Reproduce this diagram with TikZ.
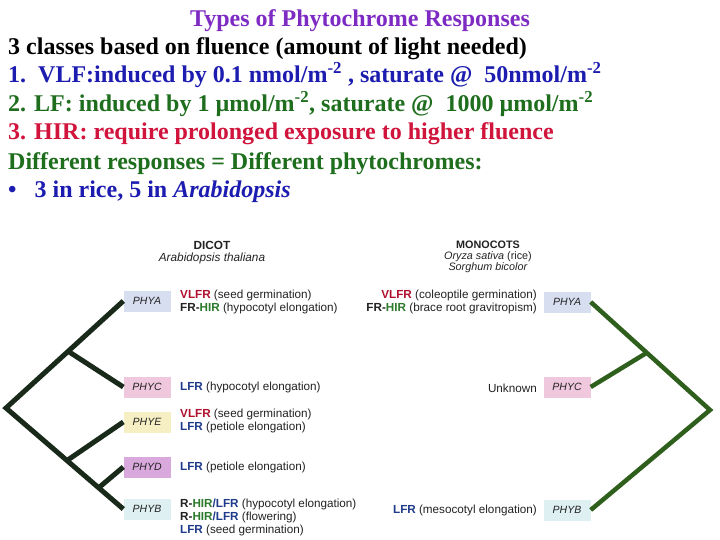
\documentclass[tikz,border=0pt]{standalone}
\usepackage{fontspec}
\setmainfont{Liberation Serif}
\setsansfont{Liberation Sans}
\usetikzlibrary{calc}

\definecolor{ttlpurple}{HTML}{7E2BC4}
\definecolor{txtblue}{HTML}{1C1CB0}
\definecolor{txtgreen}{HTML}{1E6E1E}
\definecolor{txtred}{HTML}{D0143C}
\definecolor{vlfrred}{HTML}{B0102E}
\definecolor{hirgreen}{HTML}{2C7A2C}
\definecolor{lfrblue}{HTML}{1E3A8A}
\definecolor{figtext}{HTML}{222222}
\definecolor{dicotline}{HTML}{1A2A1A}
\definecolor{monoline}{HTML}{2F5F1C}
\definecolor{boxA}{HTML}{D6DEF0}
\definecolor{boxC}{HTML}{EFC8DD}
\definecolor{boxE}{HTML}{F7EFC4}
\definecolor{boxD}{HTML}{D9A9DD}
\definecolor{boxB}{HTML}{DFF0F2}

\newcommand{\tagVLFR}{\textcolor{vlfrred}{\textbf{VLFR}}}
\newcommand{\tagLFR}{\textcolor{lfrblue}{\textbf{LFR}}}
\newcommand{\tagHIR}{\textcolor{hirgreen}{\textbf{HIR}}}

\begin{document}
\begin{tikzpicture}[x=1pt,y=-1pt,
  slide/.style={anchor=base west, inner sep=0pt, font=\bfseries\fontsize{24}{29}\selectfont},
  phy/.style={fill=#1, inner sep=0pt, minimum width=47pt, minimum height=21pt, font=\sffamily\itshape\fontsize{10.5}{12}\selectfont, text=figtext},
  resp/.style={inner sep=0pt, font=\sffamily\fontsize{11.7}{13}\selectfont, text=figtext},
  dtree/.style={line width=5pt, dicotline, line join=miter},
  mtree/.style={line width=4.5pt, monoline, line join=miter}]
\useasboundingbox[fill=white] (0,0) rectangle (720,540);

% heading and text lines
\node[anchor=base, inner sep=0pt, font=\bfseries\fontsize{24}{29}\selectfont, text=ttlpurple] (title) at (360,27) {Types of Phytochrome Responses};
\node[slide] (classes) at (8,55) {3 classes based on fluence (amount of light needed)};
\node[slide, text=txtblue] (vlf) at (8,83) {1.\ \ VLF:induced by 0.1 nmol/m\textsuperscript{-2} , saturate @\ \ 50nmol/m\textsuperscript{-2}};
\node[slide, text=txtgreen] (lf) at (8,112) {2. LF: induced by 1 µmol/m\textsuperscript{-2}, saturate @\ \ 1000 µmol/m\textsuperscript{-2}};
\node[slide, text=txtred] (hir) at (8,140) {3. HIR: require prolonged exposure to higher fluence};
\node[slide, text=txtgreen] (diff) at (8,170) {Different responses = Different phytochromes:};
\node[slide, text=txtblue] (rice) at (8,198) {\textbullet\hspace{18pt}3 in rice, 5 in \textit{Arabidopsis}};

% dicot side
\node[anchor=north, align=center, inner sep=0pt, font=\sffamily\fontsize{11.8}{12.5}\selectfont, text=figtext] (dicot) at (212,241) {\textbf{DICOT}\\\textit{Arabidopsis thaliana}};
\node[phy=boxA] (dA) at (147,301) {PHYA};
\node[phy=boxC] (dC) at (147,387) {PHYC};
\node[phy=boxE] (dE) at (147,422) {PHYE};
\node[phy=boxD] (dD) at (147,467) {PHYD};
\node[phy=boxB] (dB) at (147,509) {PHYB};
\coordinate (droot) at (6,408);
\coordinate (dup) at ($(droot)!0.53!(dA.west)$);
\coordinate (dlow) at ($(droot)!0.52!(dB.west)$);
\coordinate (dsub) at ($(droot)!0.79!(dB.west)$);
\draw[dtree] (dA.west) -- (droot) -- (dB.west);
\draw[dtree] (dup) -- (dC.west);
\draw[dtree] (dlow) -- (dE.west);
\draw[dtree] (dsub) -- (dD.west);

\node[resp, anchor=west, align=left] (dAr) at (180,302) {\tagVLFR{} (seed germination)\\\textbf{FR-}\tagHIR{} (hypocotyl elongation)};
\node[resp, anchor=west, align=left] (dCr) at (180,387) {\tagLFR{} (hypocotyl elongation)};
\node[resp, anchor=west, align=left] (dEr) at (180,421) {\tagVLFR{} (seed germination)\\\tagLFR{} (petiole elongation)};
\node[resp, anchor=west, align=left] (dDr) at (180,467) {\tagLFR{} (petiole elongation)};
\node[resp, anchor=west, align=left] (dBr) at (180,517) {\textbf{R-}\tagHIR\textcolor{lfrblue}{\textbf{/LFR}} (hypocotyl elongation)\\\textbf{R-}\tagHIR\textcolor{lfrblue}{\textbf{/LFR}} (flowering)\\\tagLFR{} (seed germination)};

% monocot side
\node[anchor=north, align=center, inner sep=0pt, font=\sffamily\fontsize{10.8}{11}\selectfont, text=figtext] (mono) at (488,241) {\textbf{MONOCOTS}\\\textit{Oryza sativa} (rice)\\\textit{Sorghum bicolor}};
\node[phy=boxA] (mA) at (567,302) {PHYA};
\node[phy=boxC] (mC) at (567,387) {PHYC};
\node[phy=boxB] (mB) at (567,510) {PHYB};
\coordinate (mroot) at (710,410);
\coordinate (mup) at ($(mA.east)!0.47!(mroot)$);
\draw[mtree] (mA.east) -- (mroot) -- (mB.east);
\draw[mtree] (mup) -- (mC.east);

\node[resp, anchor=east, align=right] (mAr) at (537,302) {\tagVLFR{} (coleoptile germination)\\\textbf{FR-}\tagHIR{} (brace root gravitropism)};
\node[resp, anchor=east] (mCr) at (537,388) {Unknown};
\node[resp, anchor=east] (mBr) at (537,510) {\tagLFR{} (mesocotyl elongation)};
\end{tikzpicture}
\end{document}
